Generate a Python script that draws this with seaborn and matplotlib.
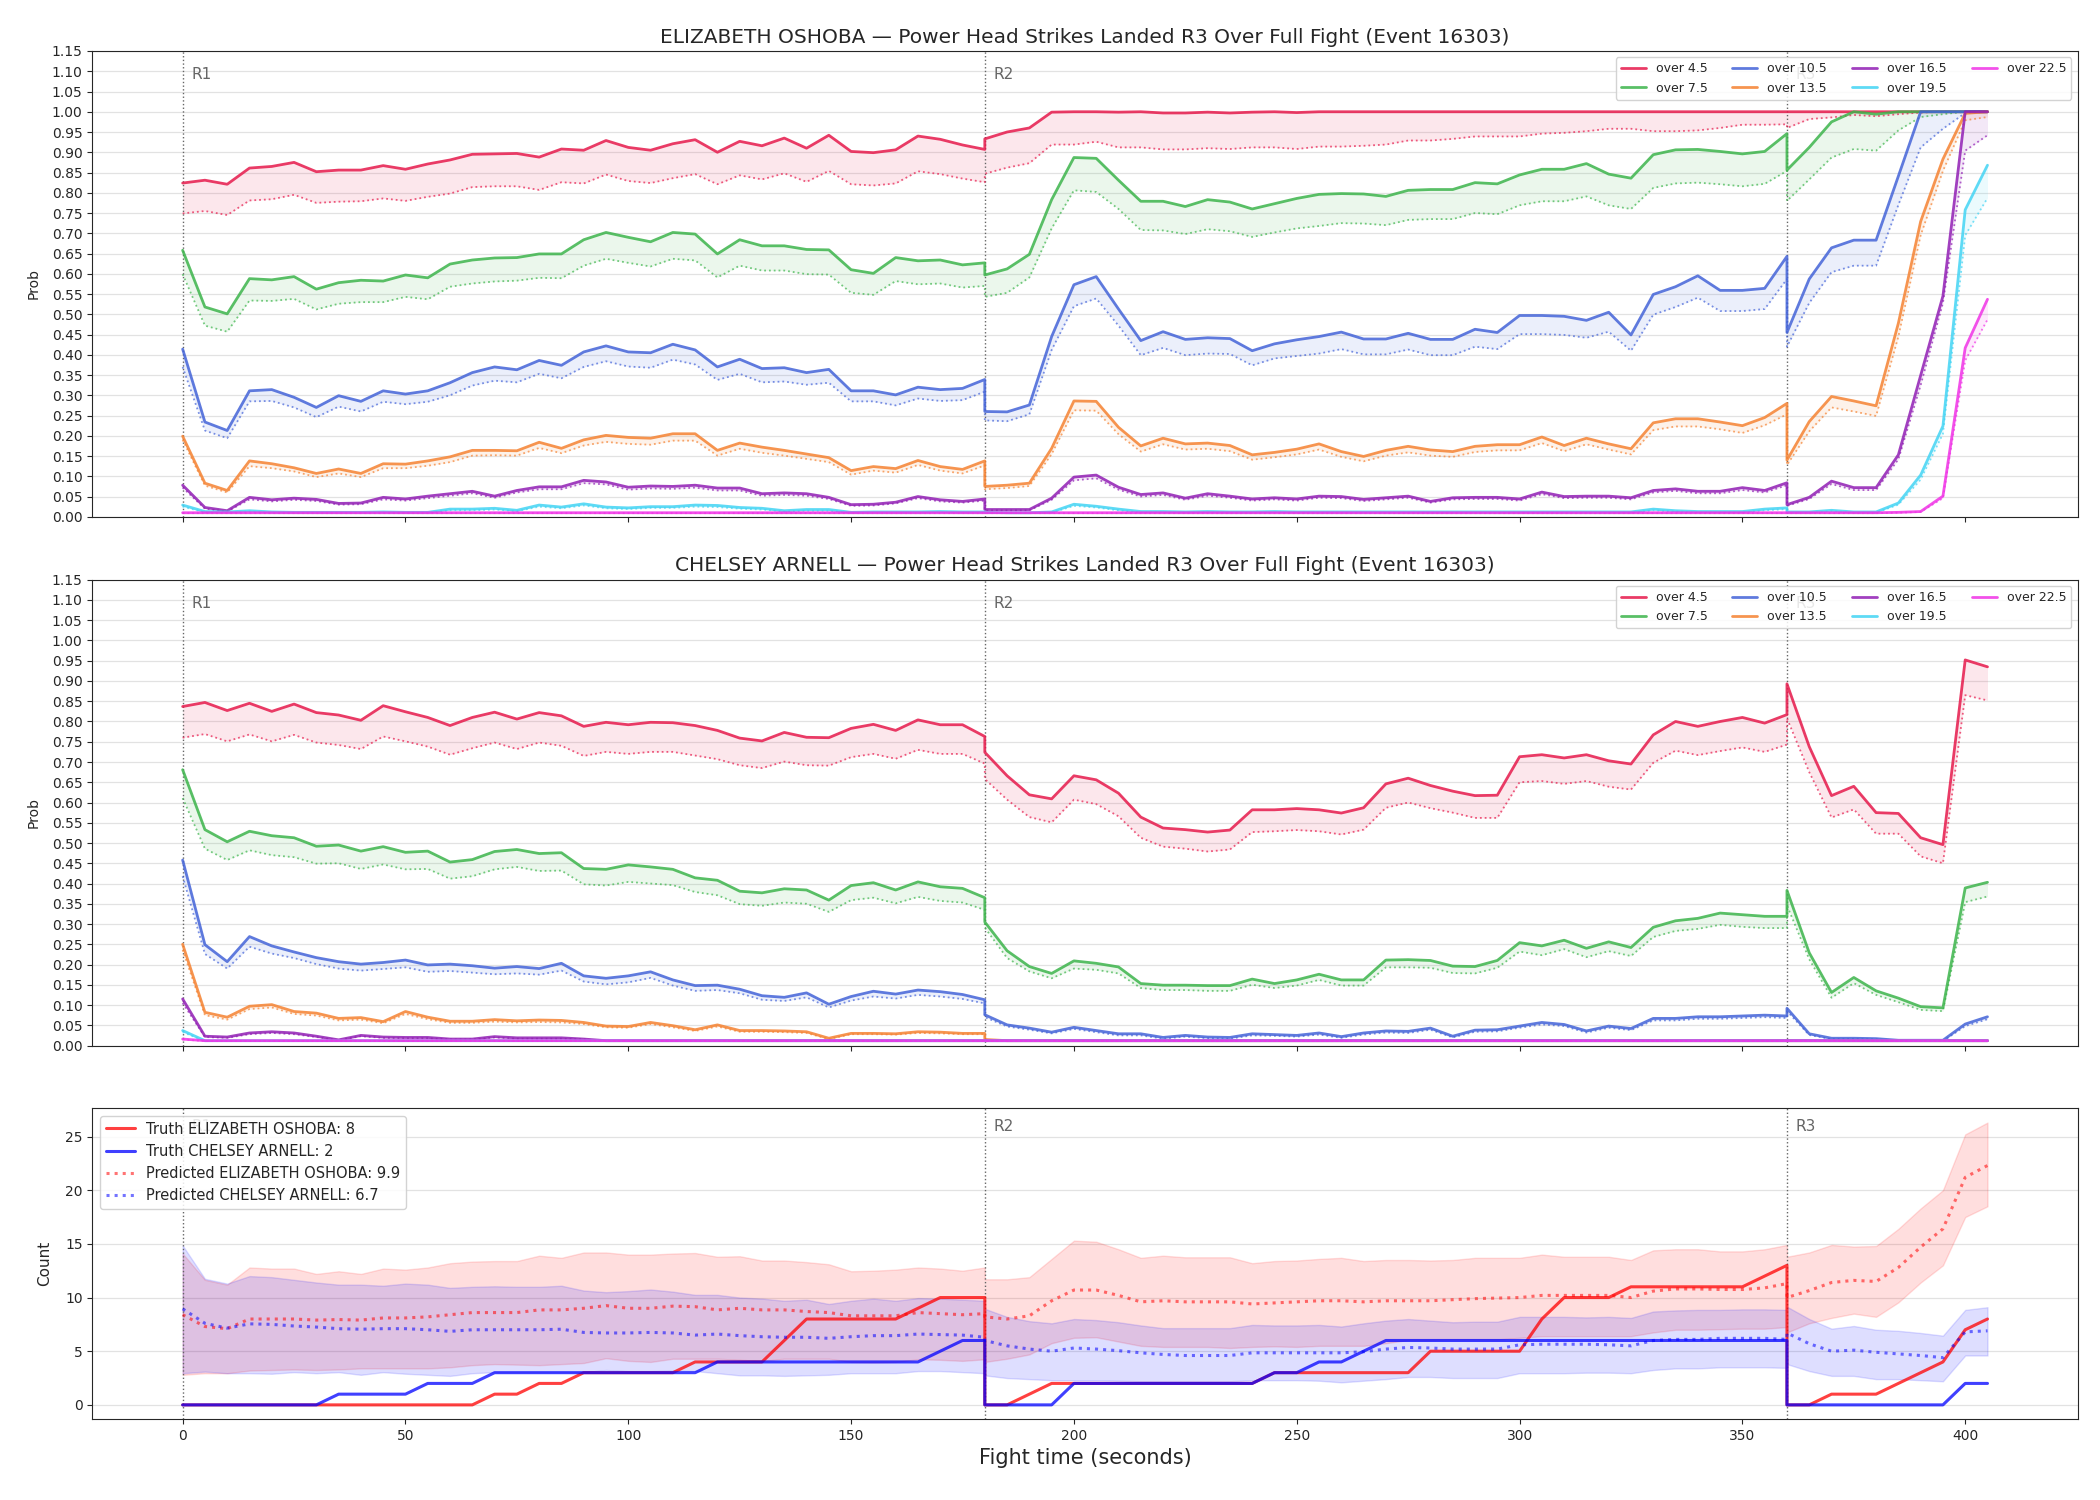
import matplotlib
matplotlib.use("Agg")
import matplotlib.pyplot as plt
import matplotlib.ticker as mticker
import seaborn as sns

# time axis: 5 s steps, each round restarts at its own boundary
t_r1 = list(range(0, 185, 5))
t_r2 = list(range(180, 365, 5))
t_r3 = list(range(360, 410, 5))
times = t_r1 + t_r2 + t_r3

round_starts = [0, 180, 360]
round_names = ["R1", "R2", "R3"]

fighter_a = "ELIZABETH OSHOBA"
fighter_b = "CHELSEY ARNELL"
market = "Power Head Strikes Landed R3 Over Full Fight (Event 16303)"

line_names = ["over 4.5", "over 7.5", "over 10.5", "over 13.5", "over 16.5", "over 19.5", "over 22.5"]
line_colors = ["#e6194b", "#3cb44b", "#4363d8", "#f58231", "#911eb4", "#42d4f4", "#f032e6"]

# ---------------- ELIZABETH OSHOBA probabilities (solid = model, _lo = dotted) ----------------
osh_o45 = (
    [0.824, 0.831, 0.821, 0.861, 0.865, 0.875, 0.852, 0.856, 0.856, 0.867, 0.858, 0.871,
     0.881, 0.895, 0.896, 0.897, 0.888, 0.908, 0.905, 0.929, 0.912, 0.905, 0.921, 0.931,
     0.900, 0.927, 0.916, 0.935, 0.910, 0.942, 0.902, 0.899, 0.906, 0.940, 0.932, 0.918, 0.907]
    + [0.933, 0.950, 0.960, 0.999, 1.000, 1.000, 0.999, 1.000, 0.997, 0.997, 0.999, 0.997,
       0.999, 1.000, 0.998, 1.000, 1.000, 1.000, 1.000, 1.000, 1.000, 1.000, 1.000, 1.000,
       1.000, 1.000, 1.000, 1.000, 1.000, 1.000, 1.000, 1.000, 1.000, 1.000, 1.000, 1.000, 1.000]
    + [1.000, 1.000, 1.000, 1.000, 1.000, 1.000, 1.000, 1.000, 1.000, 1.000]
)
osh_o45_lo = (
    [0.749, 0.755, 0.745, 0.781, 0.784, 0.795, 0.775, 0.778, 0.779, 0.786, 0.780, 0.790,
     0.798, 0.814, 0.816, 0.816, 0.807, 0.826, 0.823, 0.845, 0.829, 0.824, 0.836, 0.846,
     0.821, 0.843, 0.833, 0.848, 0.827, 0.854, 0.821, 0.818, 0.823, 0.853, 0.846, 0.835, 0.826]
    + [0.847, 0.862, 0.873, 0.919, 0.919, 0.926, 0.912, 0.912, 0.907, 0.907, 0.910, 0.908,
       0.912, 0.912, 0.908, 0.914, 0.914, 0.916, 0.919, 0.929, 0.929, 0.933, 0.939, 0.939,
       0.939, 0.946, 0.948, 0.952, 0.958, 0.958, 0.952, 0.952, 0.954, 0.960, 0.968, 0.968, 0.969]
    + [0.960, 0.982, 0.986, 0.992, 0.989, 0.994, 0.998, 1.000, 1.000, 1.000]
)
osh_o75 = (
    [0.658, 0.518, 0.501, 0.588, 0.585, 0.593, 0.562, 0.578, 0.584, 0.582, 0.597, 0.590,
     0.624, 0.634, 0.639, 0.640, 0.649, 0.649, 0.684, 0.702, 0.690, 0.679, 0.702, 0.698,
     0.649, 0.684, 0.669, 0.669, 0.660, 0.659, 0.610, 0.601, 0.640, 0.632, 0.634, 0.622, 0.627]
    + [0.597, 0.612, 0.648, 0.783, 0.887, 0.885, 0.831, 0.779, 0.779, 0.766, 0.783, 0.777,
       0.760, 0.773, 0.786, 0.796, 0.798, 0.797, 0.791, 0.806, 0.808, 0.808, 0.825, 0.822,
       0.844, 0.858, 0.858, 0.872, 0.846, 0.836, 0.894, 0.906, 0.907, 0.902, 0.896, 0.902, 0.946]
    + [0.856, 0.912, 0.975, 1.000, 0.994, 1.000, 1.000, 1.000, 1.000, 1.000]
)
osh_o75_lo = (
    [0.599, 0.472, 0.457, 0.534, 0.533, 0.538, 0.512, 0.526, 0.530, 0.530, 0.543, 0.537,
     0.568, 0.576, 0.581, 0.583, 0.590, 0.589, 0.620, 0.637, 0.627, 0.618, 0.637, 0.633,
     0.591, 0.620, 0.608, 0.608, 0.599, 0.598, 0.553, 0.548, 0.582, 0.574, 0.576, 0.566, 0.570]
    + [0.543, 0.553, 0.591, 0.712, 0.806, 0.802, 0.760, 0.708, 0.707, 0.698, 0.710, 0.705,
       0.691, 0.702, 0.712, 0.718, 0.725, 0.724, 0.720, 0.733, 0.735, 0.735, 0.750, 0.747,
       0.769, 0.779, 0.779, 0.791, 0.769, 0.760, 0.812, 0.823, 0.825, 0.821, 0.816, 0.822, 0.854]
    + [0.780, 0.833, 0.887, 0.908, 0.904, 0.954, 0.987, 0.994, 1.000, 1.000]
)
osh_o105 = (
    [0.414, 0.234, 0.213, 0.311, 0.314, 0.295, 0.270, 0.299, 0.285, 0.311, 0.303, 0.311,
     0.331, 0.356, 0.370, 0.363, 0.386, 0.374, 0.407, 0.422, 0.407, 0.405, 0.426, 0.412,
     0.370, 0.389, 0.366, 0.368, 0.356, 0.364, 0.311, 0.311, 0.301, 0.320, 0.314, 0.317, 0.339]
    + [0.260, 0.259, 0.276, 0.445, 0.573, 0.593, 0.513, 0.435, 0.457, 0.438, 0.442, 0.440,
       0.410, 0.427, 0.437, 0.445, 0.456, 0.439, 0.439, 0.453, 0.438, 0.438, 0.463, 0.455,
       0.497, 0.497, 0.495, 0.485, 0.505, 0.449, 0.549, 0.568, 0.595, 0.559, 0.559, 0.564, 0.643]
    + [0.455, 0.587, 0.664, 0.683, 0.683, 0.841, 1.000, 1.000, 1.000, 1.000]
)
osh_o105_lo = (
    [0.370, 0.213, 0.194, 0.285, 0.286, 0.270, 0.246, 0.272, 0.260, 0.284, 0.278, 0.284,
     0.300, 0.324, 0.336, 0.332, 0.353, 0.342, 0.370, 0.384, 0.371, 0.368, 0.388, 0.376,
     0.338, 0.353, 0.332, 0.334, 0.326, 0.331, 0.285, 0.285, 0.275, 0.292, 0.286, 0.288, 0.309]
    + [0.238, 0.236, 0.253, 0.412, 0.520, 0.539, 0.472, 0.399, 0.417, 0.399, 0.403, 0.402,
       0.374, 0.391, 0.397, 0.403, 0.414, 0.401, 0.401, 0.413, 0.399, 0.399, 0.420, 0.414,
       0.451, 0.451, 0.449, 0.442, 0.457, 0.410, 0.499, 0.518, 0.541, 0.508, 0.508, 0.513, 0.587]
    + [0.420, 0.528, 0.604, 0.620, 0.620, 0.770, 0.912, 0.958, 0.997, 1.000]
)
osh_o135 = (
    [0.199, 0.083, 0.065, 0.138, 0.131, 0.121, 0.107, 0.118, 0.107, 0.131, 0.130, 0.138,
     0.148, 0.164, 0.164, 0.163, 0.184, 0.169, 0.190, 0.201, 0.196, 0.194, 0.205, 0.205,
     0.164, 0.182, 0.172, 0.164, 0.155, 0.146, 0.114, 0.124, 0.119, 0.139, 0.124, 0.117, 0.138]
    + [0.075, 0.078, 0.083, 0.169, 0.286, 0.285, 0.221, 0.175, 0.194, 0.180, 0.182, 0.176,
       0.153, 0.159, 0.167, 0.180, 0.161, 0.149, 0.164, 0.174, 0.165, 0.161, 0.174, 0.178,
       0.178, 0.197, 0.176, 0.194, 0.180, 0.168, 0.232, 0.242, 0.242, 0.234, 0.225, 0.245, 0.280]
    + [0.140, 0.235, 0.297, 0.286, 0.274, 0.478, 0.729, 0.883, 0.996, 1.000]
)
osh_o135_lo = (
    [0.190, 0.077, 0.060, 0.125, 0.120, 0.112, 0.098, 0.107, 0.098, 0.120, 0.120, 0.126,
     0.135, 0.151, 0.152, 0.151, 0.170, 0.157, 0.176, 0.185, 0.180, 0.178, 0.188, 0.188,
     0.151, 0.168, 0.158, 0.151, 0.143, 0.135, 0.104, 0.114, 0.109, 0.128, 0.114, 0.107, 0.127]
    + [0.068, 0.071, 0.076, 0.155, 0.263, 0.262, 0.204, 0.161, 0.179, 0.166, 0.168, 0.162,
       0.141, 0.147, 0.154, 0.166, 0.148, 0.137, 0.151, 0.159, 0.151, 0.148, 0.160, 0.164,
       0.164, 0.182, 0.162, 0.179, 0.166, 0.154, 0.214, 0.223, 0.223, 0.216, 0.207, 0.226, 0.253]
    + [0.128, 0.211, 0.270, 0.260, 0.249, 0.445, 0.695, 0.854, 0.979, 0.987]
)
osh_o165 = (
    [0.078, 0.023, 0.015, 0.048, 0.042, 0.046, 0.043, 0.033, 0.034, 0.048, 0.044, 0.051,
     0.057, 0.063, 0.051, 0.065, 0.074, 0.074, 0.090, 0.086, 0.073, 0.076, 0.075, 0.078,
     0.071, 0.071, 0.057, 0.059, 0.057, 0.048, 0.030, 0.031, 0.036, 0.050, 0.042, 0.038, 0.044]
    + [0.018, 0.018, 0.018, 0.046, 0.098, 0.103, 0.073, 0.055, 0.059, 0.046, 0.057, 0.051,
       0.044, 0.047, 0.044, 0.051, 0.050, 0.043, 0.047, 0.051, 0.038, 0.047, 0.048, 0.048,
       0.044, 0.061, 0.050, 0.051, 0.051, 0.047, 0.065, 0.069, 0.063, 0.063, 0.072, 0.065, 0.084]
    + [0.030, 0.048, 0.088, 0.072, 0.072, 0.153, 0.349, 0.545, 1.000, 1.000]
)
osh_o165_lo = (
    [0.072, 0.020, 0.013, 0.043, 0.038, 0.042, 0.039, 0.030, 0.031, 0.043, 0.040, 0.046,
     0.052, 0.058, 0.047, 0.060, 0.068, 0.068, 0.083, 0.080, 0.067, 0.070, 0.069, 0.072,
     0.065, 0.065, 0.052, 0.054, 0.052, 0.044, 0.027, 0.028, 0.033, 0.046, 0.038, 0.035, 0.040]
    + [0.016, 0.016, 0.016, 0.042, 0.090, 0.095, 0.067, 0.050, 0.054, 0.042, 0.052, 0.047,
       0.040, 0.043, 0.040, 0.047, 0.046, 0.039, 0.043, 0.047, 0.035, 0.043, 0.044, 0.044,
       0.040, 0.056, 0.046, 0.047, 0.047, 0.043, 0.060, 0.064, 0.058, 0.058, 0.066, 0.060, 0.078]
    + [0.027, 0.044, 0.081, 0.066, 0.066, 0.142, 0.325, 0.528, 0.904, 0.942]
)
osh_o195 = (
    [0.029, 0.013, 0.012, 0.015, 0.012, 0.011, 0.011, 0.011, 0.011, 0.012, 0.011, 0.011,
     0.019, 0.019, 0.021, 0.016, 0.029, 0.024, 0.032, 0.024, 0.022, 0.025, 0.025, 0.029,
     0.028, 0.023, 0.021, 0.015, 0.018, 0.018, 0.011, 0.012, 0.012, 0.012, 0.013, 0.012, 0.012]
    + [0.011, 0.010, 0.010, 0.012, 0.031, 0.026, 0.019, 0.013, 0.013, 0.012, 0.013, 0.012,
       0.012, 0.013, 0.012, 0.012, 0.012, 0.012, 0.012, 0.012, 0.012, 0.012, 0.012, 0.012,
       0.012, 0.012, 0.012, 0.012, 0.012, 0.012, 0.019, 0.015, 0.013, 0.013, 0.013, 0.019, 0.022]
    + [0.012, 0.012, 0.016, 0.012, 0.012, 0.034, 0.103, 0.224, 0.758, 0.868]
)
osh_o195_lo = (
    [0.025, 0.011, 0.010, 0.013, 0.010, 0.010, 0.010, 0.010, 0.010, 0.010, 0.010, 0.010,
     0.016, 0.016, 0.018, 0.014, 0.025, 0.021, 0.028, 0.021, 0.019, 0.022, 0.022, 0.025,
     0.024, 0.020, 0.018, 0.013, 0.015, 0.015, 0.010, 0.010, 0.010, 0.010, 0.011, 0.010, 0.010]
    + [0.010, 0.009, 0.009, 0.010, 0.027, 0.023, 0.016, 0.011, 0.011, 0.010, 0.011, 0.010,
       0.010, 0.011, 0.010, 0.010, 0.010, 0.010, 0.010, 0.010, 0.010, 0.010, 0.010, 0.010,
       0.010, 0.010, 0.010, 0.010, 0.010, 0.010, 0.016, 0.013, 0.011, 0.011, 0.011, 0.016, 0.019]
    + [0.010, 0.010, 0.014, 0.010, 0.010, 0.030, 0.092, 0.205, 0.695, 0.787]
)
osh_o225 = (
    [0.010, 0.010, 0.010, 0.010, 0.010, 0.010, 0.010, 0.010, 0.010, 0.010, 0.010, 0.010,
     0.010, 0.010, 0.010, 0.010, 0.010, 0.010, 0.010, 0.010, 0.010, 0.010, 0.010, 0.010,
     0.010, 0.010, 0.010, 0.010, 0.010, 0.010, 0.010, 0.010, 0.010, 0.010, 0.010, 0.010, 0.010]
    + [0.010, 0.010, 0.010, 0.010, 0.010, 0.010, 0.010, 0.010, 0.010, 0.010, 0.010, 0.010,
       0.010, 0.010, 0.010, 0.010, 0.010, 0.010, 0.010, 0.010, 0.010, 0.010, 0.010, 0.010,
       0.010, 0.010, 0.010, 0.010, 0.010, 0.010, 0.010, 0.010, 0.010, 0.010, 0.010, 0.010, 0.010]
    + [0.010, 0.010, 0.010, 0.010, 0.010, 0.011, 0.013, 0.051, 0.417, 0.537]
)
osh_o225_lo = (
    [0.009, 0.009, 0.009, 0.009, 0.009, 0.009, 0.009, 0.009, 0.009, 0.009, 0.009, 0.009,
     0.009, 0.009, 0.009, 0.009, 0.009, 0.009, 0.009, 0.009, 0.009, 0.009, 0.009, 0.009,
     0.009, 0.009, 0.009, 0.009, 0.009, 0.009, 0.009, 0.009, 0.009, 0.009, 0.009, 0.009, 0.009]
    + [0.009, 0.009, 0.009, 0.009, 0.009, 0.009, 0.009, 0.009, 0.009, 0.009, 0.009, 0.009,
       0.009, 0.009, 0.009, 0.009, 0.009, 0.009, 0.009, 0.009, 0.009, 0.009, 0.009, 0.009,
       0.009, 0.009, 0.009, 0.009, 0.009, 0.009, 0.009, 0.009, 0.009, 0.009, 0.009, 0.009, 0.009]
    + [0.009, 0.009, 0.009, 0.009, 0.009, 0.010, 0.012, 0.046, 0.386, 0.487]
)

# ---------------- CHELSEY ARNELL probabilities ----------------
arn_o45 = (
    [0.837, 0.847, 0.827, 0.845, 0.825, 0.843, 0.822, 0.816, 0.803, 0.839, 0.824, 0.810,
     0.790, 0.810, 0.823, 0.806, 0.822, 0.814, 0.788, 0.798, 0.792, 0.798, 0.797, 0.790,
     0.778, 0.759, 0.752, 0.773, 0.761, 0.760, 0.783, 0.793, 0.778, 0.804, 0.792, 0.792, 0.763]
    + [0.724, 0.666, 0.619, 0.609, 0.666, 0.656, 0.623, 0.564, 0.537, 0.533, 0.527, 0.532,
       0.582, 0.582, 0.585, 0.582, 0.574, 0.587, 0.646, 0.660, 0.642, 0.628, 0.617, 0.618,
       0.713, 0.718, 0.710, 0.718, 0.703, 0.695, 0.767, 0.800, 0.788, 0.800, 0.810, 0.796, 0.817]
    + [0.893, 0.738, 0.617, 0.640, 0.575, 0.573, 0.513, 0.496, 0.952, 0.935]
)
arn_o45_lo = (
    [0.760, 0.769, 0.751, 0.768, 0.751, 0.767, 0.748, 0.742, 0.732, 0.763, 0.751, 0.738,
     0.718, 0.734, 0.748, 0.732, 0.748, 0.740, 0.715, 0.725, 0.720, 0.725, 0.725, 0.716,
     0.707, 0.692, 0.685, 0.701, 0.692, 0.691, 0.712, 0.720, 0.708, 0.730, 0.720, 0.720, 0.696]
    + [0.658, 0.607, 0.564, 0.551, 0.607, 0.596, 0.566, 0.513, 0.491, 0.486, 0.479, 0.484,
       0.527, 0.529, 0.532, 0.529, 0.521, 0.533, 0.587, 0.600, 0.586, 0.575, 0.562, 0.562,
       0.650, 0.653, 0.646, 0.653, 0.639, 0.632, 0.698, 0.728, 0.717, 0.727, 0.736, 0.725, 0.743]
    + [0.808, 0.675, 0.563, 0.583, 0.523, 0.523, 0.467, 0.450, 0.865, 0.852]
)
arn_o75 = (
    [0.681, 0.533, 0.503, 0.529, 0.518, 0.513, 0.492, 0.495, 0.480, 0.491, 0.477, 0.480,
     0.453, 0.459, 0.479, 0.484, 0.474, 0.476, 0.437, 0.435, 0.446, 0.441, 0.435, 0.414,
     0.408, 0.381, 0.377, 0.387, 0.384, 0.359, 0.395, 0.402, 0.384, 0.404, 0.392, 0.388, 0.365]
    + [0.305, 0.234, 0.195, 0.178, 0.209, 0.203, 0.194, 0.153, 0.149, 0.149, 0.148, 0.148,
       0.164, 0.153, 0.162, 0.176, 0.162, 0.162, 0.211, 0.212, 0.210, 0.196, 0.195, 0.210,
       0.254, 0.246, 0.260, 0.240, 0.256, 0.242, 0.292, 0.308, 0.314, 0.327, 0.323, 0.319, 0.319]
    + [0.383, 0.229, 0.131, 0.168, 0.135, 0.117, 0.096, 0.093, 0.389, 0.403]
)
arn_o75_lo = (
    [0.611, 0.486, 0.458, 0.482, 0.470, 0.465, 0.449, 0.450, 0.436, 0.447, 0.435, 0.436,
     0.412, 0.418, 0.435, 0.441, 0.431, 0.432, 0.398, 0.395, 0.404, 0.400, 0.396, 0.379,
     0.371, 0.349, 0.345, 0.353, 0.350, 0.330, 0.359, 0.365, 0.351, 0.367, 0.357, 0.353, 0.335]
    + [0.291, 0.216, 0.183, 0.166, 0.190, 0.187, 0.178, 0.142, 0.137, 0.137, 0.135, 0.135,
       0.150, 0.142, 0.148, 0.162, 0.148, 0.148, 0.193, 0.193, 0.192, 0.179, 0.178, 0.192,
       0.232, 0.223, 0.238, 0.218, 0.233, 0.221, 0.268, 0.283, 0.288, 0.298, 0.293, 0.290, 0.290]
    + [0.346, 0.213, 0.118, 0.154, 0.125, 0.107, 0.088, 0.085, 0.354, 0.368]
)
arn_o105 = (
    [0.458, 0.249, 0.207, 0.269, 0.246, 0.231, 0.217, 0.207, 0.201, 0.205, 0.211, 0.199,
     0.201, 0.197, 0.191, 0.195, 0.190, 0.203, 0.172, 0.166, 0.172, 0.182, 0.162, 0.148,
     0.149, 0.139, 0.123, 0.119, 0.130, 0.102, 0.121, 0.134, 0.127, 0.137, 0.133, 0.126, 0.113]
    + [0.076, 0.051, 0.043, 0.033, 0.045, 0.037, 0.029, 0.029, 0.020, 0.025, 0.021, 0.020,
       0.029, 0.027, 0.025, 0.031, 0.022, 0.031, 0.036, 0.035, 0.043, 0.023, 0.038, 0.039,
       0.048, 0.057, 0.052, 0.036, 0.048, 0.042, 0.067, 0.067, 0.071, 0.071, 0.073, 0.075, 0.073]
    + [0.092, 0.029, 0.018, 0.018, 0.017, 0.013, 0.013, 0.013, 0.053, 0.071]
)
arn_o105_lo = (
    [0.418, 0.226, 0.190, 0.244, 0.227, 0.216, 0.201, 0.190, 0.185, 0.189, 0.193, 0.182,
     0.184, 0.180, 0.176, 0.178, 0.175, 0.185, 0.158, 0.151, 0.156, 0.167, 0.148, 0.135,
     0.137, 0.129, 0.113, 0.110, 0.119, 0.094, 0.111, 0.121, 0.116, 0.125, 0.121, 0.115, 0.104]
    + [0.070, 0.047, 0.039, 0.030, 0.041, 0.033, 0.025, 0.025, 0.017, 0.022, 0.018, 0.017,
       0.025, 0.024, 0.022, 0.027, 0.019, 0.027, 0.032, 0.031, 0.039, 0.020, 0.034, 0.035,
       0.044, 0.052, 0.048, 0.032, 0.044, 0.038, 0.062, 0.062, 0.066, 0.066, 0.068, 0.070, 0.068]
    + [0.085, 0.026, 0.016, 0.016, 0.015, 0.011, 0.011, 0.011, 0.048, 0.065]
)
arn_o135 = (
    [0.250, 0.082, 0.070, 0.097, 0.101, 0.084, 0.080, 0.067, 0.069, 0.059, 0.084, 0.070,
     0.060, 0.060, 0.064, 0.061, 0.063, 0.062, 0.057, 0.048, 0.047, 0.057, 0.049, 0.039,
     0.051, 0.037, 0.037, 0.036, 0.034, 0.018, 0.030, 0.030, 0.029, 0.034, 0.033, 0.030, 0.030]
    + [0.015, 0.012, 0.012, 0.012, 0.012, 0.012, 0.012, 0.012, 0.012, 0.012, 0.012, 0.012,
       0.012, 0.012, 0.012, 0.012, 0.012, 0.012, 0.012, 0.012, 0.012, 0.012, 0.012, 0.012,
       0.012, 0.012, 0.012, 0.012, 0.012, 0.012, 0.012, 0.012, 0.012, 0.012, 0.012, 0.012, 0.012]
    + [0.012, 0.012, 0.012, 0.012, 0.012, 0.012, 0.012, 0.012, 0.012, 0.012]
)
arn_o135_lo = (
    [0.236, 0.075, 0.064, 0.090, 0.094, 0.078, 0.074, 0.062, 0.064, 0.055, 0.078, 0.065,
     0.056, 0.056, 0.059, 0.057, 0.058, 0.057, 0.053, 0.045, 0.044, 0.053, 0.045, 0.036,
     0.047, 0.034, 0.034, 0.033, 0.031, 0.016, 0.028, 0.028, 0.027, 0.031, 0.030, 0.028, 0.028]
    + [0.014, 0.011, 0.011, 0.011, 0.011, 0.011, 0.011, 0.011, 0.011, 0.011, 0.011, 0.011,
       0.011, 0.011, 0.011, 0.011, 0.011, 0.011, 0.011, 0.011, 0.011, 0.011, 0.011, 0.011,
       0.011, 0.011, 0.011, 0.011, 0.011, 0.011, 0.011, 0.011, 0.011, 0.011, 0.011, 0.011, 0.011]
    + [0.011, 0.011, 0.011, 0.011, 0.011, 0.011, 0.011, 0.011, 0.011, 0.011]
)
arn_o165 = (
    [0.115, 0.023, 0.021, 0.031, 0.034, 0.031, 0.023, 0.014, 0.025, 0.021, 0.020, 0.020,
     0.016, 0.016, 0.022, 0.019, 0.019, 0.019, 0.016, 0.012, 0.012, 0.012, 0.012, 0.012,
     0.012, 0.012, 0.012, 0.012, 0.012, 0.012, 0.012, 0.012, 0.012, 0.012, 0.012, 0.012, 0.012]
    + [0.012, 0.012, 0.012, 0.012, 0.012, 0.012, 0.012, 0.012, 0.012, 0.012, 0.012, 0.012,
       0.012, 0.012, 0.012, 0.012, 0.012, 0.012, 0.012, 0.012, 0.012, 0.012, 0.012, 0.012,
       0.012, 0.012, 0.012, 0.012, 0.012, 0.012, 0.012, 0.012, 0.012, 0.012, 0.012, 0.012, 0.012]
    + [0.012, 0.012, 0.012, 0.012, 0.012, 0.012, 0.012, 0.012, 0.012, 0.012]
)
arn_o165_lo = (
    [0.105, 0.021, 0.019, 0.028, 0.031, 0.028, 0.021, 0.013, 0.023, 0.019, 0.018, 0.018,
     0.015, 0.015, 0.020, 0.017, 0.017, 0.017, 0.015, 0.011, 0.011, 0.011, 0.011, 0.011,
     0.011, 0.011, 0.011, 0.011, 0.011, 0.011, 0.011, 0.011, 0.011, 0.011, 0.011, 0.011, 0.011]
    + [0.011, 0.011, 0.011, 0.011, 0.011, 0.011, 0.011, 0.011, 0.011, 0.011, 0.011, 0.011,
       0.011, 0.011, 0.011, 0.011, 0.011, 0.011, 0.011, 0.011, 0.011, 0.011, 0.011, 0.011,
       0.011, 0.011, 0.011, 0.011, 0.011, 0.011, 0.011, 0.011, 0.011, 0.011, 0.011, 0.011, 0.011]
    + [0.011, 0.011, 0.011, 0.011, 0.011, 0.011, 0.011, 0.011, 0.011, 0.011]
)
arn_o195 = (
    [0.037, 0.012, 0.012, 0.012, 0.012, 0.012, 0.012, 0.012, 0.012, 0.012, 0.012, 0.012,
     0.012, 0.012, 0.012, 0.012, 0.012, 0.012, 0.012, 0.012, 0.012, 0.012, 0.012, 0.012,
     0.012, 0.012, 0.012, 0.012, 0.012, 0.012, 0.012, 0.012, 0.012, 0.012, 0.012, 0.012, 0.012]
    + [0.012, 0.012, 0.012, 0.012, 0.012, 0.012, 0.012, 0.012, 0.012, 0.012, 0.012, 0.012,
       0.012, 0.012, 0.012, 0.012, 0.012, 0.012, 0.012, 0.012, 0.012, 0.012, 0.012, 0.012,
       0.012, 0.012, 0.012, 0.012, 0.012, 0.012, 0.012, 0.012, 0.012, 0.012, 0.012, 0.012, 0.012]
    + [0.012, 0.012, 0.012, 0.012, 0.012, 0.012, 0.012, 0.012, 0.012, 0.012]
)
arn_o195_lo = (
    [0.033, 0.011, 0.011, 0.011, 0.011, 0.011, 0.011, 0.011, 0.011, 0.011, 0.011, 0.011,
     0.011, 0.011, 0.011, 0.011, 0.011, 0.011, 0.011, 0.011, 0.011, 0.011, 0.011, 0.011,
     0.011, 0.011, 0.011, 0.011, 0.011, 0.011, 0.011, 0.011, 0.011, 0.011, 0.011, 0.011, 0.011]
    + [0.011, 0.011, 0.011, 0.011, 0.011, 0.011, 0.011, 0.011, 0.011, 0.011, 0.011, 0.011,
       0.011, 0.011, 0.011, 0.011, 0.011, 0.011, 0.011, 0.011, 0.011, 0.011, 0.011, 0.011,
       0.011, 0.011, 0.011, 0.011, 0.011, 0.011, 0.011, 0.011, 0.011, 0.011, 0.011, 0.011, 0.011]
    + [0.011, 0.011, 0.011, 0.011, 0.011, 0.011, 0.011, 0.011, 0.011, 0.011]
)
arn_o225 = (
    [0.016, 0.012, 0.012, 0.012, 0.012, 0.012, 0.012, 0.012, 0.012, 0.012, 0.012, 0.012,
     0.012, 0.012, 0.012, 0.012, 0.012, 0.012, 0.012, 0.012, 0.012, 0.012, 0.012, 0.012,
     0.012, 0.012, 0.012, 0.012, 0.012, 0.012, 0.012, 0.012, 0.012, 0.012, 0.012, 0.012, 0.012]
    + [0.012, 0.012, 0.012, 0.012, 0.012, 0.012, 0.012, 0.012, 0.012, 0.012, 0.012, 0.012,
       0.012, 0.012, 0.012, 0.012, 0.012, 0.012, 0.012, 0.012, 0.012, 0.012, 0.012, 0.012,
       0.012, 0.012, 0.012, 0.012, 0.012, 0.012, 0.012, 0.012, 0.012, 0.012, 0.012, 0.012, 0.012]
    + [0.012, 0.012, 0.012, 0.012, 0.012, 0.012, 0.012, 0.012, 0.012, 0.012]
)
arn_o225_lo = (
    [0.015, 0.011, 0.011, 0.011, 0.011, 0.011, 0.011, 0.011, 0.011, 0.011, 0.011, 0.011,
     0.011, 0.011, 0.011, 0.011, 0.011, 0.011, 0.011, 0.011, 0.011, 0.011, 0.011, 0.011,
     0.011, 0.011, 0.011, 0.011, 0.011, 0.011, 0.011, 0.011, 0.011, 0.011, 0.011, 0.011, 0.011]
    + [0.011, 0.011, 0.011, 0.011, 0.011, 0.011, 0.011, 0.011, 0.011, 0.011, 0.011, 0.011,
       0.011, 0.011, 0.011, 0.011, 0.011, 0.011, 0.011, 0.011, 0.011, 0.011, 0.011, 0.011,
       0.011, 0.011, 0.011, 0.011, 0.011, 0.011, 0.011, 0.011, 0.011, 0.011, 0.011, 0.011, 0.011]
    + [0.011, 0.011, 0.011, 0.011, 0.011, 0.011, 0.011, 0.011, 0.011, 0.011]
)

# ---------------- cumulative counts ----------------
truth_osh = (
    [0, 0, 0, 0, 0, 0, 0, 0, 0, 0, 0, 0, 0, 0, 1, 1, 2, 2, 3, 3, 3, 3, 3, 4,
     4, 4, 4, 6, 8, 8, 8, 8, 8, 9, 10, 10, 10]
    + [0, 0, 1, 2, 2, 2, 2, 2, 2, 2, 2, 2, 2, 3, 3, 3, 3, 3, 3, 3, 5, 5, 5, 5,
       5, 8, 10, 10, 10, 11, 11, 11, 11, 11, 11, 12, 13]
    + [0, 0, 1, 1, 1, 2, 3, 4, 7, 8]
)
truth_arn = (
    [0, 0, 0, 0, 0, 0, 0, 1, 1, 1, 1, 2, 2, 2, 3, 3, 3, 3, 3, 3, 3, 3, 3, 3,
     4, 4, 4, 4, 4, 4, 4, 4, 4, 4, 5, 6, 6]
    + [0, 0, 0, 0, 2, 2, 2, 2, 2, 2, 2, 2, 2, 3, 3, 4, 4, 5, 6, 6, 6, 6, 6, 6,
       6, 6, 6, 6, 6, 6, 6, 6, 6, 6, 6, 6, 6]
    + [0, 0, 0, 0, 0, 0, 0, 0, 2, 2]
)
pred_osh = (
    [8.4, 7.3, 7.1, 8.0, 8.0, 8.0, 7.9, 7.95, 7.9, 8.1, 8.1, 8.2, 8.4, 8.6, 8.6, 8.6,
     8.85, 8.85, 9.0, 9.25, 9.0, 9.0, 9.2, 9.15, 8.85, 9.0, 8.85, 8.85, 8.7, 8.6, 8.3,
     8.3, 8.3, 8.6, 8.5, 8.4, 8.5]
    + [8.2, 8.0, 8.3, 9.7, 10.7, 10.7, 10.2, 9.6, 9.7, 9.6, 9.6, 9.6, 9.4, 9.5, 9.6, 9.7,
       9.7, 9.6, 9.7, 9.7, 9.7, 9.8, 9.9, 9.95, 10.0, 10.2, 10.2, 10.2, 10.2, 10.0, 10.6,
       10.8, 10.8, 10.75, 10.75, 10.9, 11.3]
    + [10.0, 10.65, 11.4, 11.6, 11.5, 12.8, 14.7, 16.4, 21.2, 22.3]
)
pred_osh_hi = (
    [14.1, 11.65, 11.2, 12.8, 12.7, 12.7, 12.2, 12.45, 12.2, 12.7, 12.6, 12.8, 13.2, 13.35,
     13.4, 13.4, 13.9, 13.7, 14.2, 14.2, 14.0, 14.0, 14.1, 14.15, 13.8, 13.85, 13.45, 13.45,
     13.3, 13.1, 12.45, 12.5, 12.6, 12.8, 12.7, 12.5, 12.8]
    + [11.7, 11.7, 11.9, 13.6, 15.3, 15.2, 14.5, 13.7, 13.9, 13.75, 13.75, 13.75, 13.2, 13.4,
       13.45, 13.6, 13.7, 13.4, 13.5, 13.5, 13.45, 13.5, 13.7, 13.7, 13.7, 14.0, 13.8, 13.8,
       13.8, 13.5, 14.4, 14.5, 14.5, 14.3, 14.3, 14.5, 14.9]
    + [13.8, 14.2, 14.9, 14.75, 14.8, 16.4, 18.3, 20.0, 25.2, 26.3]
)
pred_osh_lo = (
    [2.8, 2.95, 2.95, 3.2, 3.25, 3.3, 3.25, 3.3, 3.4, 3.4, 3.4, 3.4, 3.5, 3.7, 3.8, 3.75,
     3.7, 3.8, 3.9, 4.35, 4.1, 4.0, 4.3, 4.3, 4.3, 4.2, 4.1, 4.3, 4.3, 4.3, 4.0, 3.95,
     4.0, 4.25, 4.2, 4.1, 4.25]
    + [4.0, 4.3, 4.7, 5.75, 6.25, 6.3, 5.9, 5.5, 5.4, 5.4, 5.4, 5.3, 5.4, 5.45, 5.4, 5.5,
       5.5, 5.5, 5.75, 6.05, 6.05, 6.1, 6.1, 6.1, 6.25, 6.4, 6.4, 6.4, 6.4, 6.4, 6.75,
       7.0, 7.0, 7.05, 7.1, 7.1, 7.25]
    + [6.75, 7.6, 8.1, 8.5, 8.2, 9.55, 11.4, 13.0, 17.5, 18.5]
)
pred_arn = (
    [8.95, 7.6, 7.15, 7.55, 7.5, 7.35, 7.25, 7.1, 7.05, 7.1, 7.1, 7.0, 6.85, 7.0, 7.0, 7.0,
     7.0, 7.05, 6.75, 6.7, 6.7, 6.75, 6.7, 6.5, 6.6, 6.45, 6.35, 6.3, 6.3, 6.2, 6.35, 6.45,
     6.45, 6.6, 6.55, 6.5, 6.3]
    + [6.0, 5.5, 5.2, 5.0, 5.3, 5.2, 5.05, 4.85, 4.7, 4.6, 4.6, 4.6, 4.85, 4.85, 4.85, 4.85,
       4.85, 4.95, 5.2, 5.35, 5.3, 5.2, 5.2, 5.2, 5.6, 5.65, 5.65, 5.65, 5.6, 5.5, 6.0,
       6.1, 6.1, 6.2, 6.2, 6.2, 6.1]
    + [6.7, 5.7, 5.0, 5.1, 4.9, 4.75, 4.6, 4.4, 6.8, 6.9]
)
pred_arn_hi = (
    [14.85, 11.75, 11.3, 12.0, 11.9, 11.65, 11.4, 11.2, 11.2, 11.1, 11.3, 11.2, 10.9, 11.0,
     11.05, 11.0, 11.0, 11.1, 10.65, 10.5, 10.6, 10.75, 10.55, 10.25, 10.25, 10.0, 9.9, 9.7,
     9.8, 9.4, 9.7, 9.9, 9.7, 9.95, 9.9, 9.8, 9.7]
    + [8.95, 8.2, 7.8, 7.6, 8.0, 7.9, 7.7, 7.4, 7.15, 7.15, 7.15, 7.15, 7.45, 7.4, 7.4, 7.45,
       7.3, 7.6, 7.85, 8.0, 7.85, 7.7, 7.75, 7.75, 8.2, 8.2, 8.2, 8.15, 8.2, 8.1, 8.7, 8.8,
       8.85, 8.85, 8.9, 8.9, 8.85]
    + [9.15, 8.0, 7.1, 7.35, 7.0, 6.9, 6.7, 6.45, 8.85, 9.1]
)
pred_arn_lo = (
    [2.95, 3.1, 2.95, 2.95, 2.9, 3.05, 2.95, 3.05, 2.8, 3.05, 2.9, 2.8, 2.7, 2.95, 3.05, 3.05,
     3.05, 3.05, 3.05, 3.25, 3.15, 3.15, 3.2, 3.15, 2.95, 2.75, 2.75, 2.7, 2.75, 2.8, 2.95,
     2.95, 2.95, 3.15, 3.15, 3.05, 2.95]
    + [2.75, 2.5, 2.4, 2.3, 2.3, 2.3, 2.25, 2.2, 2.2, 2.2, 2.2, 2.2, 2.3, 2.3, 2.3, 2.25,
       2.1, 2.25, 2.4, 2.6, 2.6, 2.5, 2.5, 2.5, 2.95, 2.95, 2.95, 3.0, 3.0, 2.95, 3.25,
       3.4, 3.4, 3.5, 3.5, 3.5, 3.45]
    + [3.8, 3.15, 2.7, 2.7, 2.4, 2.4, 2.3, 2.2, 4.6, 4.6]
)
final_truth_osh = 8
final_truth_arn = 2
final_pred_osh = 9.9
final_pred_arn = 6.7

osh_highs = [osh_o45, osh_o75, osh_o105, osh_o135, osh_o165, osh_o195, osh_o225]
osh_lows = [osh_o45_lo, osh_o75_lo, osh_o105_lo, osh_o135_lo, osh_o165_lo, osh_o195_lo, osh_o225_lo]
arn_highs = [arn_o45, arn_o75, arn_o105, arn_o135, arn_o165, arn_o195, arn_o225]
arn_lows = [arn_o45_lo, arn_o75_lo, arn_o105_lo, arn_o135_lo, arn_o165_lo, arn_o195_lo, arn_o225_lo]

for s in osh_highs + osh_lows + arn_highs + arn_lows + [truth_osh, truth_arn, pred_osh, pred_osh_hi,
                                                        pred_osh_lo, pred_arn, pred_arn_hi, pred_arn_lo]:
    assert len(s) == len(times), len(s)


def mark_rounds(ax):
    for x, name in zip(round_starts, round_names):
        ax.axvline(x, color="#666666", ls=":", lw=1, zorder=1)
        ax.text(x + 2, 0.965, name, transform=ax.get_xaxis_transform(),
                color="#666666", fontsize=11, va="top")


def prob_panel(ax, fighter, highs, lows):
    for name, color, hi, lo in zip(line_names, line_colors, highs, lows):
        ax.fill_between(times, lo, hi, color=color, alpha=0.1, lw=0)
        sns.lineplot(x=times, y=hi, ax=ax, color=color, alpha=0.85, lw=2, label=name,
                     estimator=None, sort=False)
        sns.lineplot(x=times, y=lo, ax=ax, color=color, alpha=0.7, lw=1.3, ls=":",
                     estimator=None, sort=False)
    ax.set_ylim(0, 1.15)
    ax.yaxis.set_major_locator(mticker.MultipleLocator(0.05))
    ax.yaxis.set_major_formatter(mticker.FormatStrFormatter("%.2f"))
    ax.set_ylabel("Prob", fontsize=10, labelpad=8)
    ax.set_title(f"{fighter} \u2014 {market}", fontsize=14.5)
    ax.grid(axis="y", color="#e2e2e2", lw=0.9)
    ax.set_axisbelow(True)
    mark_rounds(ax)
    ax.legend(loc="upper right", ncol=4, fontsize=9, framealpha=0.85)


sns.set_style("ticks")
plt.rcParams["font.family"] = ["DejaVu Sans"]

fig, axes = plt.subplots(3, 1, figsize=(21, 15), dpi=100, sharex=True,
                         gridspec_kw=dict(height_ratios=[3, 3, 2], hspace=0.152))
fig.subplots_adjust(left=0.044, right=0.9894, top=0.966, bottom=0.054)

prob_panel(axes[0], fighter_a, osh_highs, osh_lows)
prob_panel(axes[1], fighter_b, arn_highs, arn_lows)

# bottom: truth vs predicted cumulative count
ax = axes[2]
ax.fill_between(times, pred_osh_lo, pred_osh_hi, color="red", alpha=0.13)
ax.fill_between(times, pred_arn_lo, pred_arn_hi, color="blue", alpha=0.13)
sns.lineplot(x=times, y=truth_osh, ax=ax, color="red", alpha=0.75, lw=2.2,
             label=f"Truth {fighter_a}: {final_truth_osh}", estimator=None, sort=False)
sns.lineplot(x=times, y=truth_arn, ax=ax, color="blue", alpha=0.75, lw=2.2,
             label=f"Truth {fighter_b}: {final_truth_arn}", estimator=None, sort=False)
sns.lineplot(x=times, y=pred_osh, ax=ax, color="red", alpha=0.55, lw=2.2, ls=":",
             label=f"Predicted {fighter_a}: {final_pred_osh}", estimator=None, sort=False)
sns.lineplot(x=times, y=pred_arn, ax=ax, color="blue", alpha=0.55, lw=2.2, ls=":",
             label=f"Predicted {fighter_b}: {final_pred_arn}", estimator=None, sort=False)
ax.set_ylabel("Count", fontsize=11, labelpad=9)
ax.set_xlabel("Fight time (seconds)", fontsize=15)
ax.grid(axis="y", color="#e2e2e2", lw=0.9)
ax.set_axisbelow(True)
mark_rounds(ax)
ax.legend(loc="upper left", fontsize=10.5, framealpha=0.85)

fig.savefig("out.png", dpi=100)
